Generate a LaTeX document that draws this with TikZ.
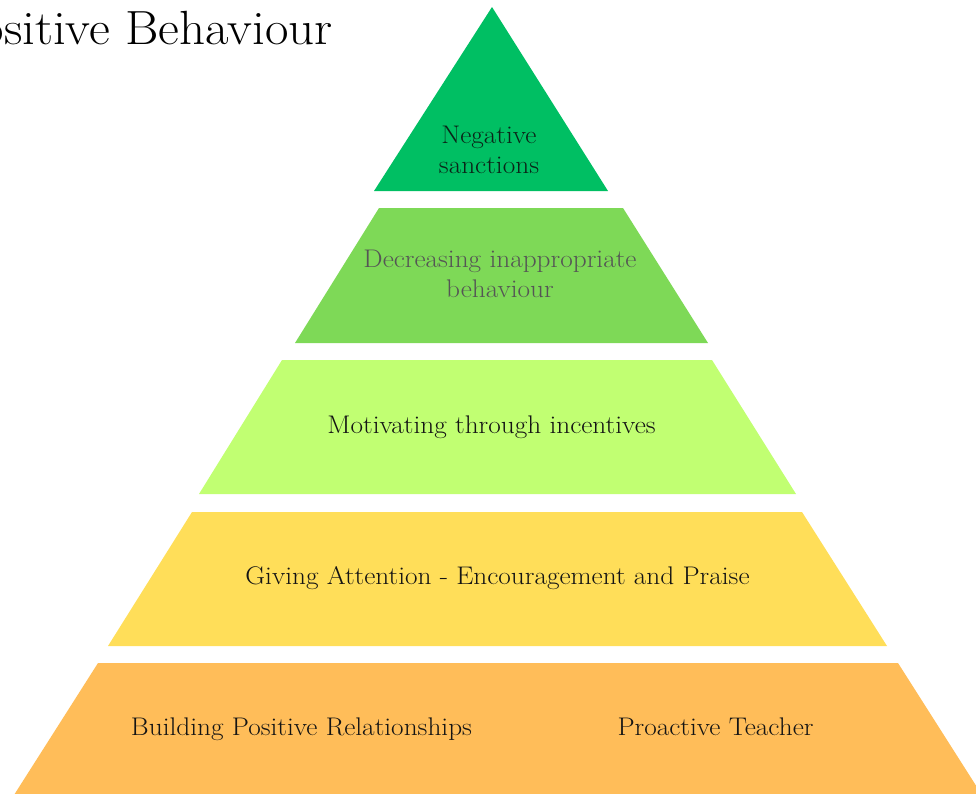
\documentclass[tikz,border=0pt]{standalone}
\definecolor{tierA}{HTML}{00BF63}
\definecolor{tierB}{HTML}{7ED957}
\definecolor{tierC}{HTML}{C1FF72}
\definecolor{tierD}{HTML}{FFDE59}
\definecolor{tierE}{HTML}{FFBD59}
\definecolor{inkdark}{HTML}{141414}
\definecolor{inkgreen}{HTML}{0B2418}
\definecolor{inkgrey}{HTML}{555555}
% labels are set slightly wide, stacked lines centred
\newcommand{\tiertext}[1]{\scalebox{1.07}[1]{\begin{tabular}{@{}c@{}}#1\end{tabular}}}
\begin{document}
\begin{tikzpicture}[x=1pt,y=-1pt,
  tierlabel/.style={font=\fontsize{25.5}{30}\selectfont, inner sep=0pt, text=inkdark},
  titletext/.style={font=\fontsize{48}{56}\selectfont, inner sep=0pt, text=black}]
\useasboundingbox (0,0) rectangle (976,793);
\clip (0,0) rectangle (976,793);

% heading, running off the left edge
\node[titletext, anchor=base east] (title) at (333,44) {\scalebox{1.063}[1]{Positive Behaviour}};

% pyramid tiers, top to bottom
\fill[tierA] (492,7) -- (608,191) -- (374,191) -- cycle;
\fill[tierB] (379,208) -- (623,208) -- (708,343) -- (295,343) -- cycle;
\fill[tierC] (282,360) -- (712,360) -- (796,494) -- (199,494) -- cycle;
\fill[tierD] (192,512) -- (802,512) -- (887,646) -- (108,646) -- cycle;
\fill[tierE] (98,663) -- (898,663) -- (982,795) -- (14,795) -- cycle;

% tier labels
\node[tierlabel, text=inkgreen] (sanctions) at (489,152) {\tiertext{Negative\\sanctions}};
\node[tierlabel, text=inkgrey] (decreasing) at (500,276) {\tiertext{Decreasing inappropriate\\behaviour}};
\node[tierlabel] (incentives) at (491.5,427) {\tiertext{Motivating through incentives}};
\node[tierlabel] (attention) at (497.5,578) {\tiertext{Giving Attention - Encouragement and Praise}};
\node[tierlabel] (relationships) at (301.5,729) {\tiertext{Building Positive Relationships}};
\node[tierlabel] (proactive) at (715.5,729) {\tiertext{Proactive Teacher}};
\end{tikzpicture}
\end{document}
